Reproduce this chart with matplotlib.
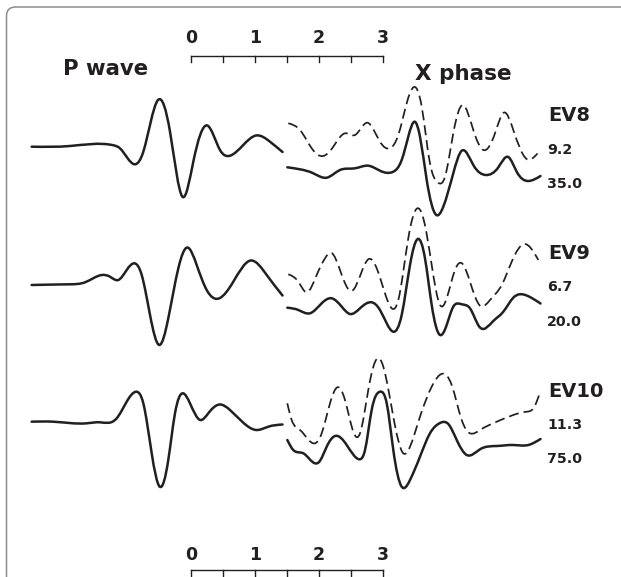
import numpy as np
import matplotlib
matplotlib.use("Agg")
import matplotlib.pyplot as plt
from matplotlib.path import Path
from matplotlib.patches import PathPatch

plt.rcParams['font.family'] = ['DejaVu Sans']
plt.rcParams['lines.scale_dashes'] = False

# ---------------- data (time in s, amplitude relative to row baseline) -------------
events = ["EV8", "EV9", "EV10"]
dashed_gain = ["9.2", "6.7", "11.3"]
solid_gain = ["35.0", "20.0", "75.0"]
scale_ticks = [0, 0.5, 1, 1.5, 2, 2.5, 3]
scale_labels = ["0", "1", "2", "3"]

# EV8
ev8_p_t = [-2.49, -1.89, -1.21, -1.11, -0.875, -0.745, -0.516, -0.328, -0.13, 0.036,
           0.255, 0.453, 0.605, 0.817, 1.016, 1.234, 1.43]
ev8_p_a = [0.3, 1.0, 1.7, -1.3, -17.3, -4.7, 47, 15.3, -50, -14.7,
           21.5, -3, -8.8, 2, 11.5, 5.3, -5]
ev8_xs_t = [1.505, 1.703, 1.911, 2.12, 2.328, 2.563, 2.77, 2.953, 3.161, 3.292, 3.395,
            3.495, 3.578, 3.683, 3.833, 3.942, 4.098, 4.23, 4.411, 4.609, 4.802, 4.958,
            5.089, 5.27, 5.461]
ev8_xs_a = [-20.3, -22.3, -26.3, -30.7, -23, -21.3, -18.7, -23.7, -24.7, -13, 10.3,
            25.3, 10.3, -33, -68, -59.7, -26.3, -3.7, -18, -28, -20.3, -10,
            -24.7, -34, -29]
ev8_xd_t = [1.52, 1.703, 1.886, 2.067, 2.223, 2.406, 2.563, 2.755, 2.953, 3.109, 3.239,
            3.37, 3.484, 3.605, 3.734, 3.848, 3.969, 4.098, 4.247, 4.411, 4.567, 4.75,
            4.891, 5.036, 5.245, 5.414]
ev8_xd_a = [23.7, 17, -1.3, -9, 0.3, 13.7, 12, 24.3, 5.3, -1.3, 12,
            43.7, 60, 40.3, -16.3, -35, -29.7, 13.7, 42, 17, -3, 13.7,
            34.5, 17, -12, -6.5]

# EV9
ev9_p_t = [-2.49, -1.89, -1.656, -1.395, -1.266, -1.136, -1.005, -0.886, -0.77, -0.64,
           -0.495, -0.355, -0.198, -0.058, 0.089, 0.245, 0.442, 0.661, 0.933, 1.183, 1.43]
ev9_p_a = [0, 0.7, 2.7, 10, 8.3, 5, 15, 21.7, 10, -30,
           -60, -33.3, 16.7, 37.5, 20, -5, -13.3, 3.3, 24.5, 10, -10.5]
ev9_xs_t = [1.505, 1.677, 1.859, 2.042, 2.198, 2.355, 2.484, 2.641, 2.823, 2.953, 3.161,
            3.292, 3.422, 3.542, 3.656, 3.761, 3.891, 3.995, 4.098, 4.23, 4.359, 4.505,
            4.723, 4.88, 5.036, 5.245, 5.461]
ev9_xs_a = [-22.7, -25, -28.3, -18.3, -13.3, -21.7, -29, -23.3, -17.3, -25, -46.7,
            -30, 20, 46, 26.7, -20, -50, -40, -21.7, -19.3, -23.3, -41.7,
            -36, -26.7, -12.7, -10.5, -18.5]
ev9_xd_t = [1.52, 1.677, 1.808, 1.964, 2.094, 2.198, 2.328, 2.511, 2.667, 2.77, 2.902,
            3.031, 3.136, 3.239, 3.395, 3.531, 3.63, 3.761, 3.891, 3.995, 4.125, 4.245,
            4.359, 4.516, 4.672, 4.855, 5.011, 5.211, 5.427]
ev9_xd_a = [10.7, 3.3, -7.3, 10, 26.7, 32, 15, -6, 13.3, 25.7, 16.7,
            -8.3, -23.3, -15, 46.7, 76.5, 66.7, 20, -20, -13.3, 15, 21,
            3.3, -20.7, -15, 0, 23.3, 41, 25]

# EV10
ev10_p_t = [-2.49, -2.151, -1.63, -1.422, -1.161, -1.005, -0.855, -0.745, -0.614, -0.489,
            -0.355, -0.25, -0.125, -0.016, 0.145, 0.27, 0.442, 0.609, 0.817, 1.02, 1.208, 1.43]
ev10_p_a = [0.3, 0.3, -1.3, -0.3, 3.7, 20.3, 30.3, 18.7, -31.3, -64.7,
            -38, 8.7, 28.7, 18.7, 2, 8.7, 17.5, 12, -0.7, -8, -4.7, -2.5]
ev10_xs_t = [1.505, 1.598, 1.755, 1.911, 2.005, 2.12, 2.25, 2.433, 2.63, 2.719, 2.823,
             2.953, 3.058, 3.161, 3.292, 3.422, 3.578, 3.734, 3.891, 4.02, 4.152, 4.308,
             4.516, 4.777, 5.036, 5.27, 5.461]
ev10_xs_a = [-18, -28, -31.3, -40.5, -39.7, -24.7, -14, -23, -37.3, -28, 12,
             30.3, 18.7, -28, -64.7, -58, -34.7, -11.3, -1, -2, -18, -33,
             -27.3, -24, -23, -23, -17]
ev10_xd_t = [1.505, 1.573, 1.703, 1.938, 2.042, 2.172, 2.286, 2.406, 2.536, 2.641, 2.77,
             2.914, 3.005, 3.161, 3.317, 3.422, 3.578, 3.761, 3.93, 4.073, 4.23, 4.359,
             4.516, 4.777, 5.036, 5.245, 5.35, 5.461]
ev10_xd_a = [18.7, 2, -8, -21.3, -11.3, 18.7, 34.7, 22, -9.7, -11.3, 32,
             63.7, 55.3, 5.3, -31.3, -24.7, 5.3, 35.3, 48.3, 37, 2, -11.3,
             -8, 0.3, 7, 10.3, 13.7, 31]

rows = [
    (ev8_p_t, ev8_p_a, ev8_xs_t, ev8_xs_a, ev8_xd_t, ev8_xd_a),
    (ev9_p_t, ev9_p_a, ev9_xs_t, ev9_xs_a, ev9_xd_t, ev9_xd_a),
    (ev10_p_t, ev10_p_a, ev10_xs_t, ev10_xs_a, ev10_xd_t, ev10_xd_a),
]

# ---------------- layout ----------------
W, H, DPI = 621, 577, 100
PX_PER_S = 64.0
T0_PX = 191.0
row_base = [-147, -285, -422]
ink = '#231f20'


def px2t(px):
    return (px - T0_PX) / PX_PER_S


def smooth_path(t, a, off):
    """Natural cubic spline through the read points, drawn as Bezier segments."""
    x = np.asarray(t, float)
    y = np.asarray(a, float) + off
    n = len(x)
    h = np.diff(x)
    s = np.diff(y) / h
    A = np.zeros((n, n))
    b = np.zeros(n)
    A[0, 0] = 1.0
    A[-1, -1] = 1.0
    for i in range(1, n - 1):
        A[i, i - 1] = h[i - 1]
        A[i, i] = 2.0 * (h[i - 1] + h[i])
        A[i, i + 1] = h[i]
        b[i] = 6.0 * (s[i] - s[i - 1])
    M = np.linalg.solve(A, b)
    verts = [(x[0], y[0])]
    codes = [Path.MOVETO]
    for i in range(n - 1):
        d0 = s[i] - h[i] * (2 * M[i] + M[i + 1]) / 6.0
        d1 = s[i] + h[i] * (M[i] + 2 * M[i + 1]) / 6.0
        k = h[i] / 3.0
        verts += [(x[i] + k, y[i] + d0 * k),
                  (x[i + 1] - k, y[i + 1] - d1 * k),
                  (x[i + 1], y[i + 1])]
        codes += [Path.CURVE4] * 3
    return Path(np.array(verts), codes)


fig = plt.figure(figsize=(W / DPI, H / DPI), dpi=DPI)

# border frame (pixel coordinates): left and top edges with rounded corner
bax = fig.add_axes([0, 0, 1, 1])
bax.set_xlim(0, W)
bax.set_ylim(H, 0)
bax.axis('off')
r = 9.0
frame = Path([(6.5, H + 20), (6.5, 7 + r), (6.5, 7), (6.5 + r, 7), (W + 20, 7)],
             [Path.MOVETO, Path.LINETO, Path.CURVE3, Path.CURVE3, Path.LINETO])
bax.add_patch(PathPatch(frame, fill=False, edgecolor='#8c8c8c', linewidth=1.1))

ax = fig.add_axes([0, 0, 1, 1])
ax.set_xlim(px2t(0), px2t(W))
ax.set_ylim(-H, 0)
ax.axis('off')
ax.patch.set_alpha(0)

for (pt, pa, st, sa, dt, da), off in zip(rows, row_base):
    ax.add_patch(PathPatch(smooth_path(pt, pa, off), fill=False,
                           edgecolor=ink, linewidth=1.8, capstyle='round', joinstyle='round'))
    ax.add_patch(PathPatch(smooth_path(st, sa, off), fill=False,
                           edgecolor=ink, linewidth=1.8, capstyle='round', joinstyle='round'))
    ax.add_patch(PathPatch(smooth_path(dt, da, off), fill=False,
                           edgecolor=ink, linewidth=1.25, linestyle=(0, (7.2, 3.6))))

# scale bars
for line_y, tick_y, lab_y in [(-56, -62, -43), (-570, -578, -560)]:
    ax.plot([scale_ticks[0], scale_ticks[-1]], [line_y, line_y], color=ink, lw=1.0)
    for tk in scale_ticks:
        ax.plot([tk, tk], [line_y, tick_y], color=ink, lw=1.0)
    for i, lab in enumerate(scale_labels):
        ax.text(float(i), lab_y, lab, ha='center', va='baseline',
                fontsize=12.5, fontweight='bold', color=ink)

ax.text(px2t(63), -75, "P wave", ha='left', va='baseline',
        fontsize=15.3, fontweight='bold', color=ink)
ax.text(px2t(415), -80, "X phase", ha='left', va='baseline',
        fontsize=15.5, fontweight='bold', color=ink)

ev_base = [-121, -259, -397]
dg_base = [-154, -291, -429]
sg_base = [-188, -326, -463]
for name, dg, sg, y1, y2, y3 in zip(events, dashed_gain, solid_gain, ev_base, dg_base, sg_base):
    ax.text(px2t(548), y1, name, ha='left', va='baseline',
            fontsize=14, fontweight='bold', color=ink)
    ax.text(px2t(547), y2, dg, ha='left', va='baseline',
            fontsize=10.2, fontweight='bold', color=ink)
    ax.text(px2t(547), y3, sg, ha='left', va='baseline',
            fontsize=10.2, fontweight='bold', color=ink)

fig.savefig('out.png', dpi=DPI, facecolor='white')
